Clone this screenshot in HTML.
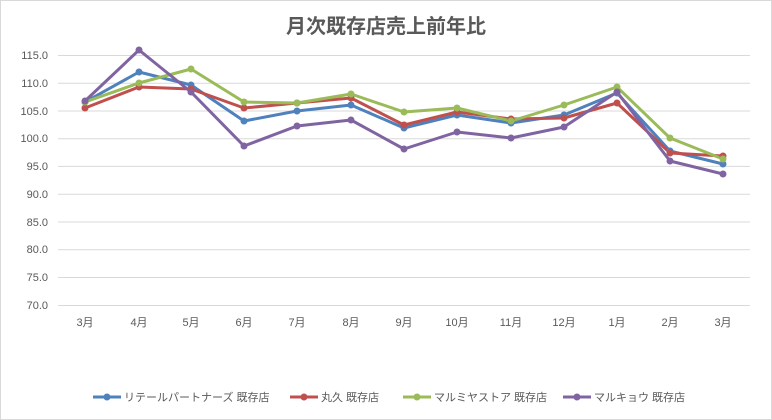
<!DOCTYPE html>
<html><head><meta charset="utf-8"><style>
body{margin:0;background:#fff}
svg{display:block;font-family:"Liberation Sans","Noto Sans CJK JP",sans-serif}
</style></head><body>
<svg width="772" height="420" viewBox="0 0 772 420">
<rect x="0.5" y="0.5" width="771" height="419" fill="#fff" stroke="#d9d9d9"/>
<text x="386" y="33" text-anchor="middle" font-size="20" font-weight="bold" fill="#595959">月次既存店売上前年比</text>
<g stroke="#d9d9d9" stroke-width="1">
<line x1="58" x2="750" y1="55.5" y2="55.5"/><line x1="58" x2="750" y1="83.2" y2="83.2"/>
<line x1="58" x2="750" y1="111" y2="111"/><line x1="58" x2="750" y1="138.7" y2="138.7"/>
<line x1="58" x2="750" y1="166.4" y2="166.4"/><line x1="58" x2="750" y1="194.2" y2="194.2"/>
<line x1="58" x2="750" y1="222" y2="222"/><line x1="58" x2="750" y1="249.7" y2="249.7"/>
<line x1="58" x2="750" y1="277.5" y2="277.5"/><line x1="58" x2="750" y1="305.5" y2="305.5"/>
</g>
<g font-size="11" fill="#595959" text-anchor="end">
<text x="48" y="59">115.0</text><text x="48" y="87">110.0</text><text x="48" y="115">105.0</text>
<text x="48" y="142">100.0</text><text x="48" y="170">95.0</text><text x="48" y="198">90.0</text>
<text x="48" y="226">85.0</text><text x="48" y="253">80.0</text><text x="48" y="281">75.0</text><text x="48" y="309">70.0</text>
</g>
<g font-size="11" fill="#595959" text-anchor="middle">
<text x="85" y="326">3月</text><text x="139" y="326">4月</text><text x="191" y="326">5月</text>
<text x="244" y="326">6月</text><text x="297" y="326">7月</text><text x="351" y="326">8月</text>
<text x="404" y="326">9月</text><text x="457" y="326">10月</text><text x="511" y="326">11月</text>
<text x="564" y="326">12月</text><text x="617" y="326">1月</text><text x="670" y="326">2月</text><text x="723" y="326">3月</text>
</g>
<defs>
<g id="m"></g>
</defs>
<g fill="none" stroke-width="3" stroke-linejoin="round">
<polyline stroke="#4f81bd" points="85,102 139,72 191,85 244,121 297,111 351,105 404,128 457,115 511,123 564,115 617,93 670,151 723,164"/>
<polyline stroke="#c0504d" points="85,108 139,87 191,89 244,108 297,103 351,98 404,125 457,112 511,119 564,118 617,103 670,153 723,156"/>
<polyline stroke="#9bbb59" points="85,102 139,83 191,69 244,102 297,103 351,94 404,112 457,108 511,121 564,105 617,87 670,138 723,159"/>
<polyline stroke="#8064a2" points="85,101 139,50 191,92 244,146 297,126 351,120 404,149 457,132 511,138 564,127 617,92 670,161 723,174"/>
</g>
<g fill="#4f81bd"><circle cx="85" cy="102" r="3.5"/><circle cx="139" cy="72" r="3.5"/><circle cx="191" cy="85" r="3.5"/><circle cx="244" cy="121" r="3.5"/><circle cx="297" cy="111" r="3.5"/><circle cx="351" cy="105" r="3.5"/><circle cx="404" cy="128" r="3.5"/><circle cx="457" cy="115" r="3.5"/><circle cx="511" cy="123" r="3.5"/><circle cx="564" cy="115" r="3.5"/><circle cx="617" cy="93" r="3.5"/><circle cx="670" cy="151" r="3.5"/><circle cx="723" cy="164" r="3.5"/></g>
<g fill="#c0504d"><circle cx="85" cy="108" r="3.5"/><circle cx="139" cy="87" r="3.5"/><circle cx="191" cy="89" r="3.5"/><circle cx="244" cy="108" r="3.5"/><circle cx="297" cy="103" r="3.5"/><circle cx="351" cy="98" r="3.5"/><circle cx="404" cy="125" r="3.5"/><circle cx="457" cy="112" r="3.5"/><circle cx="511" cy="119" r="3.5"/><circle cx="564" cy="118" r="3.5"/><circle cx="617" cy="103" r="3.5"/><circle cx="670" cy="153" r="3.5"/><circle cx="723" cy="156" r="3.5"/></g>
<g fill="#9bbb59"><circle cx="85" cy="102" r="3.5"/><circle cx="139" cy="83" r="3.5"/><circle cx="191" cy="69" r="3.5"/><circle cx="244" cy="102" r="3.5"/><circle cx="297" cy="103" r="3.5"/><circle cx="351" cy="94" r="3.5"/><circle cx="404" cy="112" r="3.5"/><circle cx="457" cy="108" r="3.5"/><circle cx="511" cy="121" r="3.5"/><circle cx="564" cy="105" r="3.5"/><circle cx="617" cy="87" r="3.5"/><circle cx="670" cy="138" r="3.5"/><circle cx="723" cy="159" r="3.5"/></g>
<g fill="#8064a2"><circle cx="85" cy="101" r="3.5"/><circle cx="139" cy="50" r="3.5"/><circle cx="191" cy="92" r="3.5"/><circle cx="244" cy="146" r="3.5"/><circle cx="297" cy="126" r="3.5"/><circle cx="351" cy="120" r="3.5"/><circle cx="404" cy="149" r="3.5"/><circle cx="457" cy="132" r="3.5"/><circle cx="511" cy="138" r="3.5"/><circle cx="564" cy="127" r="3.5"/><circle cx="617" cy="92" r="3.5"/><circle cx="670" cy="161" r="3.5"/><circle cx="723" cy="174" r="3.5"/></g>
<g stroke-width="3">
<line x1="93" x2="121" y1="397" y2="397" stroke="#4f81bd"/><circle cx="107" cy="397" r="3.5" fill="#4f81bd"/>
<line x1="290" x2="318" y1="397" y2="397" stroke="#c0504d"/><circle cx="304" cy="397" r="3.5" fill="#c0504d"/>
<line x1="403" x2="431" y1="397" y2="397" stroke="#9bbb59"/><circle cx="417" cy="397" r="3.5" fill="#9bbb59"/>
<line x1="563" x2="591" y1="397" y2="397" stroke="#8064a2"/><circle cx="577" cy="397" r="3.5" fill="#8064a2"/>
</g>
<g font-size="11" fill="#595959">
<text x="124" y="401">リテールパートナーズ 既存店</text>
<text x="321" y="401">丸久 既存店</text>
<text x="434" y="401">マルミヤストア 既存店</text>
<text x="594" y="401">マルキョウ 既存店</text>
</g>
</svg>
</body></html>
